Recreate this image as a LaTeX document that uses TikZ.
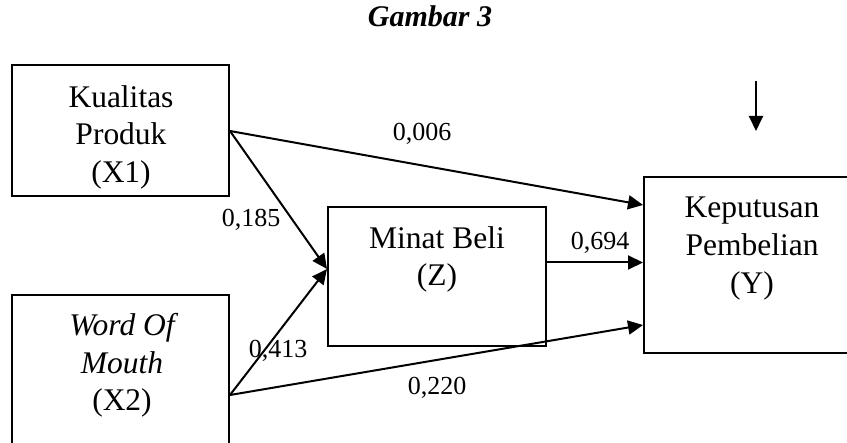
\documentclass[tikz,border=0pt]{standalone}
\usepackage{fontspec}
\setmainfont{Liberation Serif}
\usetikzlibrary{arrows.meta,calc}

\tikzset{
  box/.style={draw, line width=2pt, rectangle, inner sep=0pt},
  boxtext/.style={align=center, inner sep=0pt, font=\fontsize{31.5}{37.7}\selectfont},
  coef/.style={anchor=base, inner sep=0pt, font=\fontsize{26}{30}\selectfont},
  path/.style={line width=2pt, -{Triangle[length=15pt,width=14pt]}}
}

\begin{document}
\begin{tikzpicture}[x=1pt, y=-1pt]
  \useasboundingbox (0,0) rectangle (847,443);
  \clip (0,0) rectangle (847,443);

  % title
  \node[anchor=base, inner sep=0pt, font=\fontsize{30}{36}\selectfont\bfseries\itshape] (title) at (430,27) {Gambar 3};

  % construct boxes
  \node[box, minimum width=217pt, minimum height=131pt] (x1) at (120.5,130.5) {};
  \node[box, minimum width=217pt, minimum height=170pt] (x2) at (120.5,380) {};
  \node[box, minimum width=218pt, minimum height=139pt] (z)  at (437,276.5) {};
  \node[box, minimum width=232pt, minimum height=176pt] (y)  at (760,265) {};

  % box labels
  \node[boxtext] (x1t) at (121,137.3) {Kualitas\\Produk\\(X1)};
  \node[boxtext] (x2t) at (122,365.4) {\itshape Word Of\\\itshape Mouth\\(X2)};
  \node[boxtext] (zt)  at (437,259.5) {Minat Beli\\(Z)};
  \node[boxtext] (yt)  at (752,248.4) {Keputusan\\Pembelian\\(Y)};

  % connector end points
  \coordinate (x1out) at ($(x1.north east)+(0,67)$);
  \coordinate (x2out) at ($(x2.north east)+(0,101)$);
  \coordinate (zin)   at ($(z.north west)+(0,63)$);
  \coordinate (zout)  at ($(z.north east)+(0,56.5)$);
  \coordinate (yin1)  at ($(y.north west)+(0,29)$);
  \coordinate (yin2)  at ($(y.north west)+(0,86.5)$);
  \coordinate (yin3)  at ($(y.north west)+(0,149)$);
  \coordinate (etop)  at (756,81);
  \coordinate (ebot)  at (756,131);

  % paths
  \draw[path] (x1out) -- (yin1);
  \draw[path] (x1out) -- (zin);
  \draw[path] (x2out) -- (zin);
  \draw[path] (x2out) -- (yin3);
  \draw[path] (zout) -- (yin2);
  \draw[path] (etop) -- (ebot);

  % path coefficients
  \node[coef] (c1) at (422,140.5) {0,006};
  \node[coef] (c2) at (251,226.7) {0,185};
  \node[coef] (c3) at (278,358) {0,413};
  \node[coef] (c4) at (600,250) {0,694};
  \node[coef] (c5) at (437,395) {0,220};
\end{tikzpicture}
\end{document}
